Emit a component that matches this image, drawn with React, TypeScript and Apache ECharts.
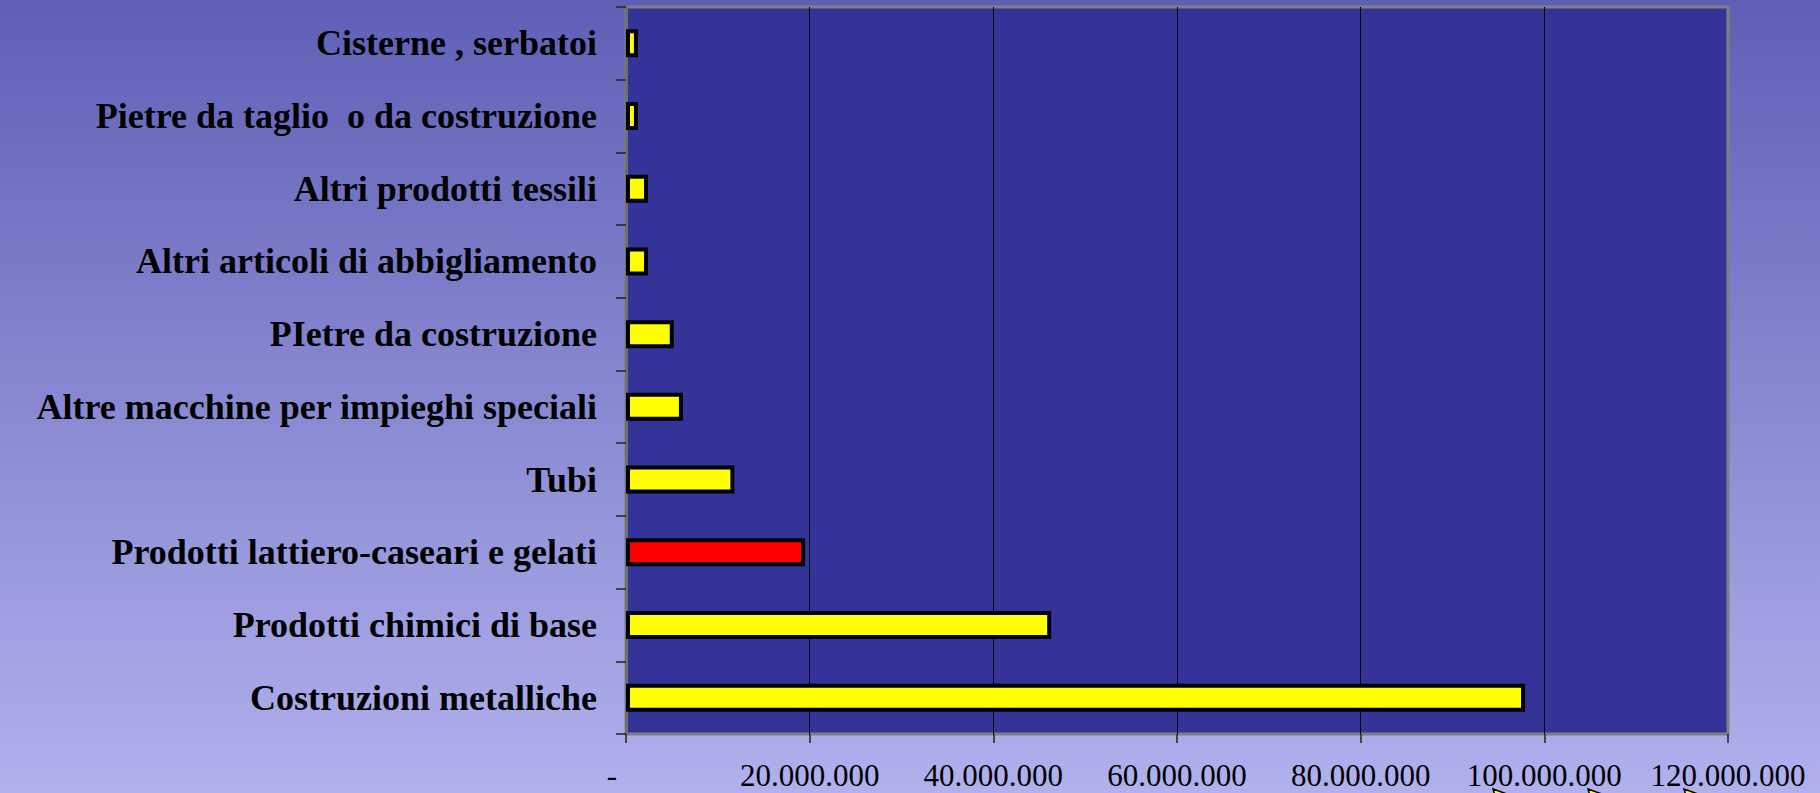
import React, { useEffect, useRef } from 'react';
import * as echarts from 'echarts';

// Categories, top to bottom as shown
const categories: string[] = [
  'Cisterne , serbatoi',
  'Pietre da taglio  o da costruzione',
  'Altri prodotti tessili',
  'Altri articoli di abbigliamento',
  'PIetre da costruzione',
  'Altre macchine per impieghi speciali',
  'Tubi',
  'Prodotti lattiero-caseari e gelati',
  'Prodotti chimici di base',
  'Costruzioni metalliche',
];

// Values (euro)
const values: number[] = [
  1300000, 1300000, 2400000, 2400000, 5200000, 6200000, 11800000, 19500000, 46300000, 97900000,
];

const highlighted = 'Prodotti lattiero-caseari e gelati';

const xMin = 0;
const xMax = 120000000;
const xStep = 20000000;

const fmt = (v: number) => String(Math.round(v)).replace(/\B(?=(\d{3})+(?!\d))/g, '.');

export default function App() {
  const ref = useRef<HTMLDivElement>(null);

  useEffect(() => {
    if (!ref.current) return;
    const chart = echarts.init(ref.current, undefined, { renderer: 'svg' });

    const arrowTips = [
      [1493, 789],
      [1588, 789],
      [1684, 789],
    ];

    chart.setOption({
      animation: false,
      backgroundColor: new echarts.graphic.LinearGradient(0, 0, 0, 1, [
        { offset: 0, color: '#5f5fb6' },
        { offset: 1, color: '#b1b1ee' },
      ]),
      textStyle: { fontFamily: '"Liberation Serif", "Times New Roman", serif' },
      grid: {
        left: 626,
        right: 92,
        top: 7,
        bottom: 59,
        show: true,
        backgroundColor: '#333399',
        borderColor: '#808080',
        borderWidth: 3,
      },
      xAxis: {
        type: 'value',
        min: xMin,
        max: xMax,
        interval: xStep,
        axisLine: { show: false },
        axisTick: { show: true, length: 9, lineStyle: { color: '#222222', width: 1.5 } },
        splitLine: {
          show: true,
          showMinLine: false,
          showMaxLine: false,
          lineStyle: { color: '#000000', width: 1 },
        },
        axisLabel: {
          margin: 26,
          color: '#000000',
          fontSize: 31,
          fontFamily: '"Liberation Serif", "Times New Roman", serif',
          formatter: (v: number) => (v === 0 ? '{d|-}' : fmt(v)),
          rich: {
            d: {
              fontSize: 31,
              color: '#000000',
              fontFamily: '"Liberation Serif", "Times New Roman", serif',
              padding: [0, 28, 0, 0],
            },
          },
        },
      },
      yAxis: {
        type: 'category',
        inverse: true,
        data: categories,
        axisLine: { show: true, lineStyle: { color: '#707070', width: 3 } },
        axisTick: { show: true, length: 10, lineStyle: { color: '#222222', width: 1.5 } },
        splitLine: { show: false },
        axisLabel: {
          margin: 29,
          color: '#000000',
          fontSize: 36,
          fontWeight: 'bold',
          fontFamily: '"Liberation Serif", "Times New Roman", serif',
        },
      },
      series: [
        {
          type: 'bar',
          barWidth: 28,
          data: values.map((v, i) => ({
            value: v,
            itemStyle: {
              color: categories[i] === highlighted ? '#ff0000' : '#ffff00',
              borderColor: '#000000',
              borderWidth: 4,
            },
          })),
        },
      ],
      graphic: arrowTips.map(([x, y]) => ({
        type: 'polygon',
        shape: { points: [[x, y], [x + 14, y + 5], [x + 9, y + 7], [x + 3, y + 10]] },
        style: { fill: '#ffff00', stroke: '#000000', lineWidth: 1.5 },
        z: 100,
      })),
    });

    return () => chart.dispose();
  }, []);

  return (
    <div
      ref={ref}
      style={{ position: 'fixed', left: 0, top: 0, width: 1820, height: 793 }}
    />
  );
}
